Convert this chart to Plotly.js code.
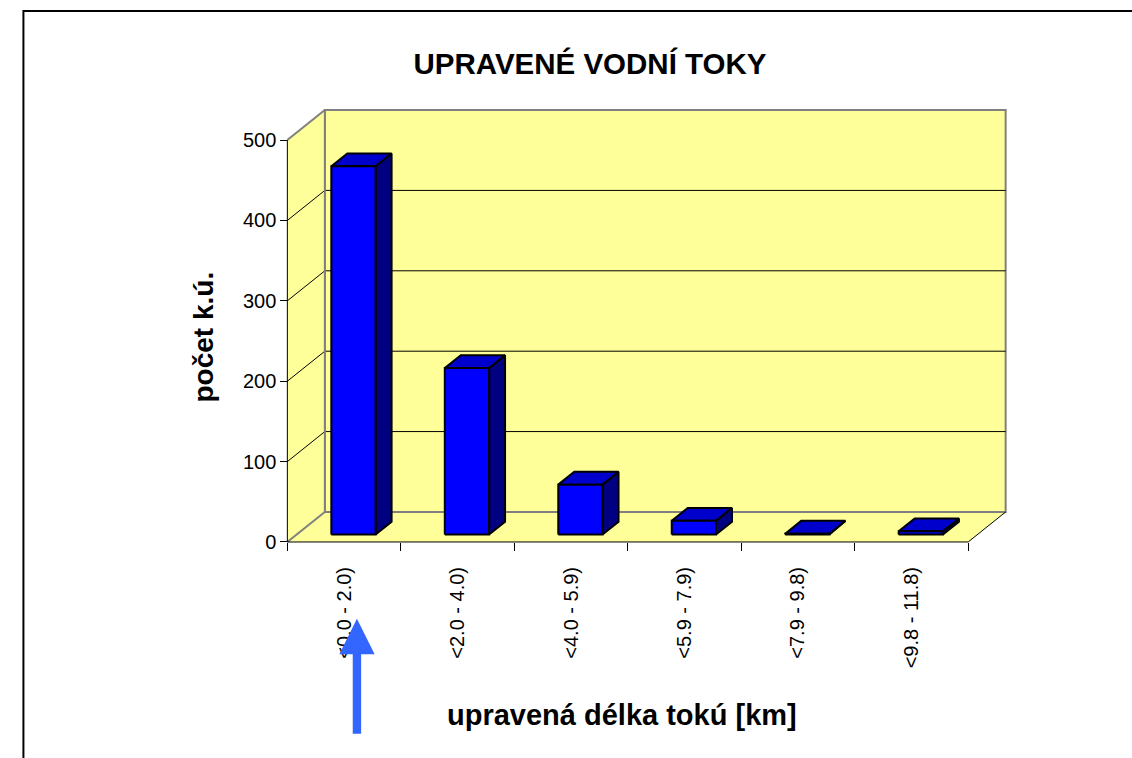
<!DOCTYPE html>
<html><head><meta charset="utf-8">
<script src="https://cdn.plot.ly/plotly-3.0.1.min.js"></script>
<style>html,body{margin:0;padding:0;background:#fff}#chart{width:1132px;height:758px}</style>
</head><body><div id="chart"></div>
<script>
// ---- data ----
const categories = ["<0.0 - 2.0)", "<2.0 - 4.0)", "<4.0 - 5.9)", "<5.9 - 7.9)", "<7.9 - 9.8)", "<9.8 - 11.8)"];
const counts = [458, 207, 62, 17, 1, 4];
const yTicks = [0, 100, 200, 300, 400, 500];
const chartTitle = "UPRAVENÉ VODNÍ TOKY";
const xTitle = "upravená délka tokú [km]";
const yTitle = "počet k.ú.";

// ---- geometry / style ----
const FONT = 'Liberation Sans, Arial, sans-serif';
const W = 1132, H = 758;
const frontLeft = 287, frontRight = 968, front0 = 541.7, frontTop = 140;
const depthPxX = 37.5, depthPxY = 30;
const nCat = categories.length;
const yMax = yTicks[yTicks.length - 1];
const catPx = (frontRight - frontLeft) / nCat;
const unitPx = (front0 - frontTop) / yMax;
const DX = depthPxX / catPx, DY = depthPxY / unitPx;
const padX = 0.1, padY = 5;
const xr = [-padX, nCat + DX + padX], yr = [-padY, yMax + DY + padY];
const plotL = frontLeft - padX * catPx;
const plotR = frontLeft + (nCat + DX + padX) * catPx;
const plotB = front0 + padY * unitPx;
const plotT = front0 - (yMax + DY + padY) * unitPx;
const px2x = p => (p - plotL) / (plotR - plotL);
const py2y = p => (plotB - p) / (plotB - plotT);

const WALL = '#FFFF99', EDGE = '#808080';
const barW = 0.39, f0 = 0.25, f1 = 0.677;
const C_FRONT = '#0000FF', C_TOP = '#0000CC', C_SIDE = '#000080';

const traces = [];
function poly(xs, ys, fill, lc, lw) {
  traces.push({type: 'scatter', mode: 'lines', x: xs.concat([xs[0]]), y: ys.concat([ys[0]]),
    fill: fill ? 'toself' : 'none', fillcolor: fill || undefined,
    line: {color: lc || 'rgba(0,0,0,0)', width: lw || 0}, hoverinfo: 'skip', showlegend: false});
}
function seg(x0, y0, x1, y1, lc, lw) {
  traces.push({type: 'scatter', mode: 'lines', x: [x0, x1], y: [y0, y1],
    line: {color: lc, width: lw}, hoverinfo: 'skip', showlegend: false});
}

// walls
poly([DX, nCat + DX, nCat + DX, DX], [DY, DY, yMax + DY, yMax + DY], WALL, EDGE, 2);
poly([0, DX, DX, 0], [0, DY, yMax + DY, yMax], WALL, null, 0);
poly([0, nCat, nCat + DX, DX], [0, 0, DY, DY], WALL, null, 0);
// gridlines
yTicks.slice(1, -1).forEach(v => {
  seg(DX, v + DY, nCat + DX, v + DY, '#000', 1);
  seg(0, v, DX, v + DY, '#000', 1);
});
// side wall edges
seg(0, 0, DX, DY, EDGE, 2);
seg(0, yMax, DX, yMax + DY, EDGE, 2);
seg(DX, DY, DX, yMax + DY, EDGE, 2);
seg(DX, DY, nCat + DX, DY, EDGE, 2);
// front axes
seg(0, 0, 0, yMax, '#000', 1);
seg(0, 0, nCat, 0, '#000', 1);
seg(nCat, 0, nCat + DX, DY, '#000', 1);

// bars
counts.forEach((v, i) => {
  const x0 = i + 0.5 - barW / 2 + f0 * DX, x1 = x0 + barW;
  const b0 = f0 * DY, b1 = f1 * DY;
  const ddx = (f1 - f0) * DX;
  poly([x1, x1 + ddx, x1 + ddx, x1], [b0, b1, b1 + v, b0 + v], C_SIDE, '#000', 2);
  poly([x0, x1, x1 + ddx, x0 + ddx], [b0 + v, b0 + v, b1 + v, b1 + v], C_TOP, '#000', 2);
  poly([x0, x1, x1, x0], [b0, b0, b0 + v, b0 + v], C_FRONT, '#000', 2);
});

const esc = s => s.replace(/</g, '&lt;').replace(/>/g, '&gt;');

const layout = {
  width: W, height: H,
  margin: {l: plotL, r: W - plotR, t: plotT, b: H - plotB, pad: 0},
  paper_bgcolor: '#fff', plot_bgcolor: 'rgba(0,0,0,0)',
  showlegend: false,
  font: {family: FONT, color: '#000', size: 20},
  title: {text: chartTitle, x: 590 / W, xref: 'container', xanchor: 'center',
    y: 1 - 64 / H, yref: 'container', yanchor: 'middle',
    font: {family: FONT, size: 29.5, weight: 'bold', color: '#000'}},
  xaxis: {range: xr, fixedrange: true, anchor: 'free', position: py2y(front0),
    tickmode: 'array', tickvals: categories.map((c, i) => i + 0.5), ticktext: categories.map(esc),
    tickangle: -90, ticks: '', ticklabelstandoff: 20, showline: false, showgrid: false, zeroline: false,
    tickfont: {family: FONT, size: 20, color: '#000'}, automargin: false,
    minor: {tickmode: 'array', tickvals: categories.map((c, i) => i).concat([nCat]),
      ticks: 'outside', ticklen: 8, tickwidth: 1, tickcolor: '#000', showgrid: false}},
  yaxis: {range: yr, fixedrange: true, anchor: 'free', position: px2x(frontLeft),
    tickmode: 'array', tickvals: yTicks, ticks: 'outside', ticklen: 7, tickwidth: 1, tickcolor: '#000',
    showline: false, showgrid: false, zeroline: false, automargin: false,
    tickfont: {family: FONT, size: 20, color: '#000'}},
  annotations: [
    {text: xTitle, xref: 'paper', yref: 'paper', x: px2x(621.5), y: py2y(715),
      xanchor: 'center', yanchor: 'middle', showarrow: false,
      font: {family: FONT, size: 29, weight: 'bold', color: '#000'}},
    {text: yTitle, xref: 'paper', yref: 'paper', x: px2x(203), y: py2y(337), textangle: -90,
      xanchor: 'center', yanchor: 'middle', showarrow: false,
      font: {family: FONT, size: 28, weight: 'bold', color: '#000'}}
  ],
  shapes: [
    {type: 'rect', xref: 'paper', yref: 'paper', x0: px2x(23), y0: py2y(11), x1: px2x(1160), y1: py2y(790),
      line: {color: '#000', width: 2}, fillcolor: 'rgba(0,0,0,0)', layer: 'above'},
    {type: 'path', xref: 'paper', yref: 'paper', layer: 'above', fillcolor: '#3366FF', line: {width: 0},
      path: 'M' + px2x(356.6) + ',' + py2y(618.3) + ' L' + px2x(374.3) + ',' + py2y(654) +
        ' L' + px2x(360.8) + ',' + py2y(654) + ' L' + px2x(360.8) + ',' + py2y(733.3) +
        ' L' + px2x(352.4) + ',' + py2y(733.3) + ' L' + px2x(352.4) + ',' + py2y(654) +
        ' L' + px2x(339) + ',' + py2y(654) + ' Z'}
  ]
};

Plotly.newPlot('chart', traces, layout, {displayModeBar: false, staticPlot: true});
</script>
</body></html>
